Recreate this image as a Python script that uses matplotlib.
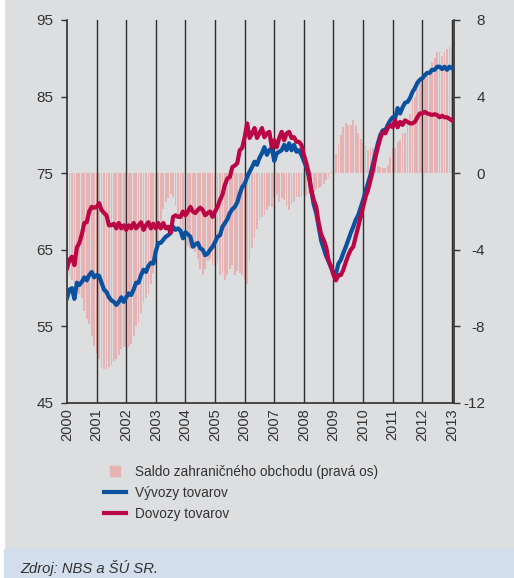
import numpy as np
import matplotlib
matplotlib.use("Agg")
import matplotlib.pyplot as plt
from matplotlib.lines import Line2D
from matplotlib.patches import Rectangle
from matplotlib import font_manager

# mesacne data, januar 2000 - januar 2013
vyvozy = [
    58.7, 59.8, 60.0, 58.6, 60.7, 60.4, 60.8, 61.4, 61.0, 61.7, 62.1, 61.4,
    61.7, 61.6, 60.7, 59.8, 59.5, 58.8, 58.4, 58.2, 57.8, 58.2, 58.8, 58.2,
    58.8, 59.3, 59.1, 59.8, 60.7, 60.7, 61.7, 62.4, 62.1, 62.9, 63.3, 63.2,
    64.8, 65.9, 65.9, 66.3, 66.7, 66.9, 67.2, 68.0, 67.6, 67.8, 67.5, 66.5,
    67.3, 67.0, 66.7, 65.4, 65.7, 65.9, 65.2, 65.0, 64.3, 64.5, 65.0, 65.4,
    66.0, 66.7, 66.9, 68.0, 68.5, 69.0, 69.8, 70.3, 70.6, 71.2, 72.3, 73.2,
    73.6, 74.5, 75.2, 75.8, 76.5, 76.1, 77.0, 77.6, 78.4, 77.4, 78.0, 78.3,
    76.6, 77.6, 77.8, 78.0, 78.7, 78.0, 78.9, 78.0, 78.7, 77.8, 78.0, 77.4,
    76.6, 75.8, 74.6, 72.8, 70.9, 69.8, 68.0, 66.2, 65.2, 64.2, 63.5, 62.7,
    62.0, 61.9, 63.2, 63.7, 64.6, 65.4, 66.3, 67.2, 68.0, 68.9, 69.5, 70.5,
    71.5, 72.7, 73.7, 74.8, 76.2, 77.6, 78.9, 80.0, 80.6, 80.6, 81.3, 81.9,
    82.3, 82.2, 83.5, 82.8, 83.6, 84.2, 84.3, 84.8, 85.6, 86.1, 86.8, 87.2,
    87.4, 87.8, 88.1, 88.1, 88.5, 88.5, 88.9, 88.9, 88.6, 88.9, 88.5, 88.9,
    88.7,
]

dovozy = [
    62.6, 63.7, 64.1, 63.0, 65.3, 65.9, 67.0, 68.5, 68.6, 70.0, 70.6, 70.5,
    70.6, 71.1, 70.2, 69.8, 69.5, 68.2, 68.2, 68.4, 67.8, 68.5, 67.8, 68.2,
    67.6, 68.2, 67.8, 68.5, 67.8, 68.2, 68.6, 67.6, 68.2, 68.6, 67.8, 68.4,
    67.8, 68.5, 67.8, 68.5, 67.8, 68.0, 67.2, 69.3, 69.5, 69.3, 69.3, 70.0,
    69.5, 70.0, 70.6, 70.0, 69.8, 70.2, 70.5, 70.2, 69.5, 69.8, 70.0, 69.3,
    70.0, 70.6, 71.5, 72.2, 73.5, 74.3, 74.5, 75.8, 76.0, 76.3, 78.0, 78.3,
    79.7, 81.5, 79.6, 80.2, 80.9, 79.6, 80.2, 80.9, 79.7, 80.2, 80.4, 78.4,
    79.3, 78.4, 79.6, 80.4, 79.3, 80.2, 80.4, 79.6, 79.7, 79.1, 79.1, 78.7,
    77.4, 76.3, 75.0, 72.8, 71.5, 70.6, 68.5, 67.0, 66.3, 65.4, 63.6, 62.8,
    61.7, 61.0, 61.7, 61.7, 62.4, 63.4, 64.3, 65.0, 65.4, 66.7, 68.0, 69.3,
    70.6, 71.9, 72.8, 74.1, 75.4, 77.1, 78.4, 79.6, 80.4, 80.2, 80.9, 81.3,
    81.0, 81.9, 81.0, 81.7, 81.3, 81.9, 81.7, 81.5, 81.5, 81.7, 82.3, 82.8,
    82.8, 83.0, 82.8, 82.7, 82.6, 82.7, 82.6, 82.3, 82.5, 82.3, 82.3, 82.1,
    81.9,
]

saldo = [
    -5.0, -5.3, -5.6, -5.8, -6.0, -6.3, -6.5, -7.2, -7.6, -7.9, -8.5, -9.0,
    -9.4, -9.7, -10.1, -10.2, -10.3, -10.1, -10.0, -9.8, -9.7, -9.5, -9.2, -9.1,
    -9.0, -9.1, -8.9, -8.5, -8.0, -7.8, -7.3, -6.8, -6.5, -6.3, -5.8, -5.2,
    -4.4, -3.6, -2.5, -1.85, -1.5, -1.3, -1.1, -1.25, -1.7, -2.2, -2.8, -3.3,
    -3.6, -3.8, -3.9, -3.8, -4.1, -4.5, -5.0, -5.3, -5.0, -4.6, -4.5, -4.8,
    -4.8, -4.7, -5.3, -5.2, -5.6, -5.3, -5.0, -4.8, -5.3, -5.1, -5.2, -5.3,
    -5.5, -5.8, -4.6, -3.9, -3.4, -2.9, -2.45, -2.3, -2.2, -1.9, -1.7, -1.75,
    -1.25, -1.15, -1.5, -1.3, -1.4, -1.7, -1.9, -1.6, -1.5, -1.25, -1.25, -1.25,
    -1.15, -1.2, -1.1, -1.0, -1.0, -0.8, -0.75, -0.7, -0.55, -0.35, -0.2, 0.05,
    0.3, 1.0, 1.5, 2.0, 2.4, 2.6, 2.5, 2.5, 2.8, 2.5, 2.1, 1.8,
    1.6, 1.4, 1.2, 1.3, 1.3, 0.9, 0.35, 0.3, 0.25, 0.25, 0.45, 0.85,
    1.3, 1.3, 1.65, 1.75, 2.1, 2.1, 2.8, 3.1, 3.8, 4.0, 4.4, 4.7,
    5.0, 5.0, 5.2, 5.5, 5.8, 6.0, 6.35, 6.35, 6.1, 6.35, 6.5, 6.6,
    6.5,
]

roky = list(range(2000, 2014))
lave_ticky = [45, 55, 65, 75, 85, 95]
prave_ticky = [-12, -8, -4, 0, 4, 8]

popisky = ["Saldo zahraničného obchodu (pravá os)", "Vývozy tovarov", "Dovozy tovarov"]
zdroj = "Zdroj: NBS a ŠÚ SR."

# farby
SIVA = "#dddee0"
MODRA_PAS = "#d2deec"
RUZOVA = "#e6b2b3"
MODRA = "#0a529f"
CERVENA = "#bb0645"
TEXT = "#333333"

plt.rcParams["font.family"] = ["Liberation Sans", "DejaVu Sans"]
plt.rcParams["axes.unicode_minus"] = False
mena_fontov = {f.name for f in font_manager.fontManager.ttflist}
uzky = "Liberation Sans Narrow" in mena_fontov

x = 2000 + np.arange(len(vyvozy)) / 12.0

W, H = 514, 578
fig = plt.figure(figsize=(W / 100, H / 100), dpi=100, facecolor=SIVA)

# pozadie: biely pruh vlavo, modry pas dole
fig.patches.append(Rectangle((0, 0), 4 / W, 1, transform=fig.transFigure,
                             color="white", zorder=0))
fig.patches.append(Rectangle((4 / W, 0), 1, 29 / H, transform=fig.transFigure,
                             color=MODRA_PAS, zorder=0))

ax = fig.add_axes([67 / W, 175 / H, 387 / W, 383 / H])
ax.set_facecolor("none")
ax2 = ax.twinx()

# stlpce saldo (prava os)
ax.bar(x, saldo, width=0.72 / 12, color=RUZOVA, linewidth=0, zorder=1)
ax.set_ylim(-12, 8)
ax.set_xlim(2000, 2013.07)
for r in roky[1:]:
    ax.axvline(r, color="#2e2e2e", lw=1.0, zorder=2)

ax.set_xticks(roky)
ax.set_xticklabels([str(r) for r in roky], rotation=90)
ax.tick_params(axis="x", length=0, labelsize=10.5, labelcolor=TEXT, pad=4)

ax.spines["top"].set_visible(False)
for s in ["left", "right", "bottom"]:
    ax.spines[s].set_color("#2e2e2e")
    ax.spines[s].set_linewidth(1.2)

# ciary (lava os)
ax2.plot(x, vyvozy, color=MODRA, lw=3, solid_joinstyle="round", zorder=3)
ax2.plot(x, dovozy, color=CERVENA, lw=3, solid_joinstyle="round", zorder=4)
ax2.set_ylim(45, 95)
for s in ax2.spines.values():
    s.set_visible(False)

# osi: lava patri ciaram, prava stlpcom
ax2.yaxis.tick_left()
ax2.set_yticks(lave_ticky)
ax2.tick_params(axis="y", direction="out", length=4.3, width=1, color="#333333",
                labelsize=11, labelcolor=TEXT, pad=5.5)

ax.yaxis.tick_right()
ax.set_yticks(prave_ticky)
ax.tick_params(axis="y", direction="out", length=4.3, width=1, color="#333333",
               labelsize=11, labelcolor=TEXT, pad=18)
for t in ax.yaxis.get_major_ticks():
    t.label2.set_horizontalalignment("right")

# legenda
uchyty = [
    Line2D([], [], marker="s", markersize=7.5, color=RUZOVA, linestyle="none"),
    Line2D([], [], color=MODRA, lw=3),
    Line2D([], [], color=CERVENA, lw=3),
]
fig.legend(uchyty, popisky, loc="upper left", bbox_to_anchor=(104 / W, 1 - 465 / H),
           frameon=False, fontsize=9.8, handlelength=1.6, handletextpad=0.66,
           labelspacing=0.5, borderpad=0, borderaxespad=0, labelcolor=TEXT)

if uzky:
    fig.text(20 / W, 5 / H, zdroj, family=["Liberation Sans Narrow", "DejaVu Sans"],
             style="italic", fontsize=11.5, color=TEXT, va="baseline")
else:
    fig.text(20 / W, 5 / H, zdroj, style="italic", fontsize=10.6, color=TEXT,
             va="baseline")

fig.savefig("out.png", dpi=100, facecolor=fig.get_facecolor())
